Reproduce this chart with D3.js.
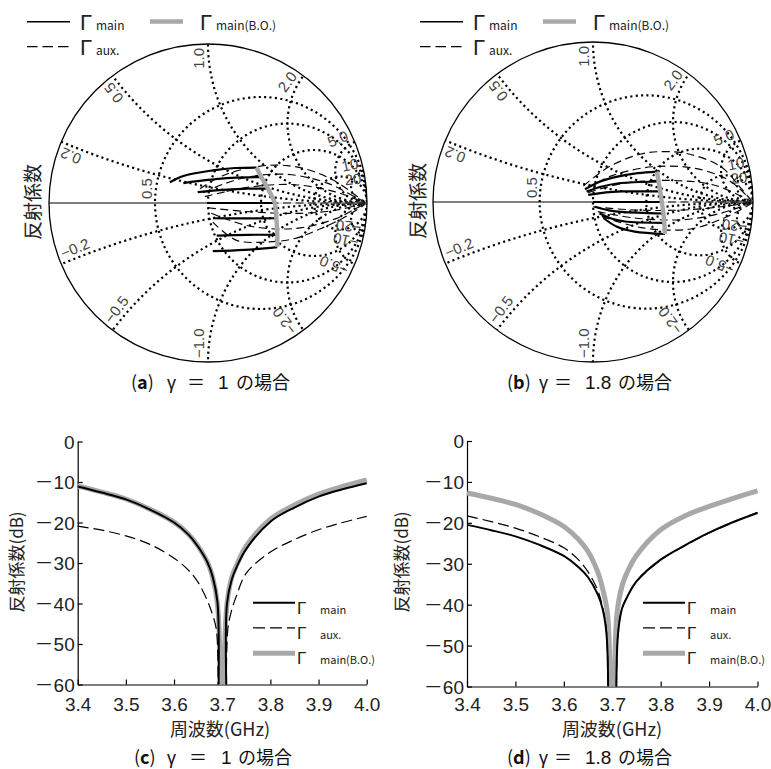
<!DOCTYPE html>
<html><head><meta charset="utf-8">
<script src="https://cdn.jsdelivr.net/npm/d3@7"></script>
<style>
body{margin:0;background:#fff;}
svg{display:block;}
</style></head><body>
<svg id="c" width="771" height="769"></svg>
<script>
// ---------------- data ----------------
const resistanceGrid = [0.5, 1, 2, 5];
const reactanceGrid = [0.2, 0.5, 1, 2, 5, 10];
const reactanceLabelValues = [0.2, 0.5, 1, 2, 5, 10, 20];
const reactanceLabelText = ["0.2", "0.5", "1.0", "2.0", "5.0", "10", "20"];

// (a) gamma = 1 : trajectories in reflection-coefficient plane [re, im]
const a_main = [
  [[-0.24,0.13],[-0.155,0.17],[0.03,0.205],[0.17,0.22],[0.305,0.223]],
  [[-0.155,0.125],[0.0,0.145],[0.15,0.158],[0.335,0.163]],
  [[-0.065,0.068],[0.1,0.082],[0.25,0.09],[0.377,0.09]],
  [[0,0],[0.42,0]],
  [[0.033,-0.096],[0.2,-0.097],[0.43,-0.096]],
  [[0.055,-0.205],[0.25,-0.2],[0.436,-0.2]],
  [[0.03,-0.303],[0.23,-0.295],[0.436,-0.277]]
];
const a_aux = [
  [[-0.05,0.09],[0.1,0.175],[0.33,0.232],[0.5,0.235],[0.66,0.2],[0.82,0.125],[0.94,0.04],[0.985,0.01]],
  [[-0.03,0.065],[0.1,0.12],[0.26,0.165],[0.5,0.18],[0.75,0.125],[0.92,0.04],[0.985,0.006]],
  [[-0.02,0.04],[0.26,0.1],[0.55,0.115],[0.8,0.07],[0.985,0.003]],
  [[0,0],[0.985,0]],
  [[0.0,-0.03],[0.26,-0.055],[0.58,-0.065],[0.81,-0.044],[0.985,-0.003]],
  [[0.02,-0.065],[0.26,-0.145],[0.55,-0.16],[0.8,-0.1],[0.93,-0.035],[0.985,-0.006]],
  [[0.03,-0.12],[0.18,-0.235],[0.37,-0.245],[0.54,-0.225],[0.7,-0.165],[0.84,-0.1],[0.94,-0.04],[0.985,-0.01]]
];
const a_bo = [[0.305,0.223],[0.335,0.163],[0.377,0.09],[0.42,0],[0.43,-0.096],[0.436,-0.2],[0.436,-0.277]];

// (b) gamma = 1.8
const b_main = [
  [[-0.05,0.08],[0.05,0.13],[0.16,0.16],[0.28,0.18],[0.4,0.19]],
  [[-0.04,0.065],[0.05,0.095],[0.16,0.117],[0.41,0.128]],
  [[-0.03,0.044],[0.08,0.06],[0.18,0.066],[0.42,0.066]],
  [[0,0],[0.43,0]],
  [[0.01,-0.03],[0.1,-0.052],[0.18,-0.062],[0.44,-0.072]],
  [[0.04,-0.07],[0.12,-0.105],[0.2,-0.122],[0.445,-0.13]],
  [[0.065,-0.1],[0.15,-0.155],[0.26,-0.185],[0.45,-0.2]]
];
const b_aux = [
  [[-0.06,0.1],[0.1,0.22],[0.3,0.3],[0.45,0.315],[0.6,0.3],[0.8,0.22],[0.93,0.08],[0.99,0.01]],
  [[-0.04,0.085],[0.12,0.165],[0.37,0.22],[0.64,0.21],[0.85,0.135],[0.99,0.008]],
  [[-0.03,0.058],[0.18,0.115],[0.47,0.135],[0.76,0.105],[0.99,0.004]],
  [[0,0],[0.99,0]],
  [[0.0,-0.03],[0.26,-0.05],[0.57,-0.05],[0.8,-0.03],[0.99,-0.003]],
  [[0.03,-0.06],[0.26,-0.1],[0.57,-0.11],[0.8,-0.07],[0.99,-0.006]],
  [[0.055,-0.09],[0.3,-0.16],[0.6,-0.17],[0.82,-0.1],[0.99,-0.01]]
];
const b_bo = [[0.4,0.19],[0.41,0.128],[0.42,0.066],[0.43,0],[0.44,-0.072],[0.445,-0.13],[0.45,-0.2]];

// (c),(d) frequency responses (GHz, dB); null = break at the notch
const xTicks = [3.4, 3.5, 3.6, 3.7, 3.8, 3.9, 4.0];
const xTickLabels = ["3.4", "3.5", "3.6", "3.7", "3.8", "3.9", "4.0"];
const yTicks = [0, -10, -20, -30, -40, -50, -60];
const yTickLabels = ["0", "－10", "－20", "－30", "－40", "－50", "－60"];

const c_main_f = [3.40,3.45,3.50,3.55,3.60,3.63,3.65,3.67,3.68,3.690,3.6925,null,3.7085,3.710,3.72,3.73,3.75,3.80,3.85,3.90,3.95,4.00];
const c_main_v = [-11.1,-12.6,-14.3,-16.8,-20.0,-23.0,-26.0,-30.0,-33.3,-39.5,-60,null,-60,-40,-34.0,-31.0,-26.5,-19.8,-16.3,-13.6,-11.8,-10.3];
const c_aux_f  = [3.40,3.45,3.50,3.55,3.60,3.63,3.65,3.67,3.68,3.688,3.6915,null,3.7085,3.712,3.72,3.73,3.75,3.80,3.85,3.90,3.95,4.00];
const c_aux_v  = [-20.9,-21.9,-23.3,-25.4,-28.8,-31.8,-34.8,-39.5,-42.8,-46.5,-60,null,-60,-46,-41.5,-38,-32.5,-27.3,-24.2,-21.8,-20.0,-18.5];
const c_bo_f   = [3.40,3.45,3.50,3.55,3.60,3.63,3.65,3.67,3.68,3.690,3.6965,null,3.7035,3.710,3.72,3.73,3.75,3.80,3.85,3.90,3.95,4.00];
const c_bo_v   = [-11.0,-12.5,-14.2,-16.7,-19.9,-22.9,-25.9,-30.0,-33.5,-40,-60,null,-60,-40,-33.5,-30.5,-25.8,-19.2,-15.7,-13.0,-11.1,-9.5];

const d_main_f = [3.40,3.45,3.50,3.55,3.60,3.63,3.65,3.67,3.68,3.688,3.6915,null,3.7085,3.712,3.72,3.73,3.75,3.80,3.85,3.90,3.95,4.00];
const d_main_v = [-20.5,-21.8,-23.3,-25.4,-28.1,-30.8,-33.3,-37.5,-41,-47,-60,null,-60,-47,-41.0,-38.3,-34.3,-29,-25.5,-22.4,-19.8,-17.6];
const d_aux_f  = [3.40,3.45,3.50,3.55,3.60,3.63,3.65,3.67,3.68,3.688,3.6915,null,3.7085,3.712,3.72,3.73,3.75,3.80,3.85,3.90,3.95,4.00];
const d_aux_v  = [-18.3,-19.7,-21.3,-23.4,-26.1,-29.0,-32.0,-36.5,-40.5,-46.5,-60,null,-60,-47,-41.0,-38.3,-34.4,-29.1,-25.6,-22.5,-19.9,-17.4];
const d_bo_f   = [3.40,3.45,3.50,3.55,3.60,3.63,3.65,3.67,3.68,3.690,3.6955,null,3.7045,3.710,3.72,3.73,3.75,3.80,3.85,3.90,3.95,4.00];
const d_bo_v   = [-12.7,-14.0,-15.5,-17.8,-20.9,-24.0,-27.0,-32,-36,-42,-60,null,-60,-42,-35.5,-32.3,-28.0,-21.7,-18.3,-16.0,-14.0,-12.2];

// ---------------- drawing ----------------
const FONT = '"Noto Sans CJK JP","Noto Sans",sans-serif';
const NUM = '"Liberation Sans","Noto Sans",sans-serif';
const GRAY = "#a8a8a8";
const svg = d3.select("#c");

function smith(cx, cy, R, main, aux, bo, id) {
  const g = svg.append("g");
  const sx = d3.scaleLinear().domain([-1, 1]).range([cx - R, cx + R]);
  const sy = d3.scaleLinear().domain([-1, 1]).range([cy + R, cy - R]);
  const len = v => sx(v) - sx(0);
  g.append("clipPath").attr("id", id).append("circle")
    .attr("cx", sx(0)).attr("cy", sy(0)).attr("r", len(1));

  const grid = g.append("g").attr("clip-path", `url(#${id})`)
    .attr("fill", "none").attr("stroke", "#000")
    .attr("stroke-width", 2.2).attr("stroke-dasharray", "2.1,3.3");
  resistanceGrid.forEach(r => grid.append("circle")
    .attr("cx", sx(r / (r + 1))).attr("cy", sy(0)).attr("r", len(1 / (r + 1))));
  reactanceGrid.forEach(x => [x, -x].forEach(v => grid.append("circle")
    .attr("cx", sx(1)).attr("cy", sy(1 / v)).attr("r", len(1 / Math.abs(v)))));

  // real axis
  g.append("line").attr("x1", sx(-1)).attr("x2", sx(0)).attr("y1", sy(0)).attr("y2", sy(0))
    .attr("stroke", "#000").attr("stroke-width", 1);
  g.append("line").attr("x1", sx(0)).attr("x2", sx(1)).attr("y1", sy(0)).attr("y2", sy(0))
    .attr("stroke", "#c4c4c4").attr("stroke-width", 1);

  // outer circle
  g.append("circle").attr("cx", sx(0)).attr("cy", sy(0)).attr("r", len(1))
    .attr("fill", "none").attr("stroke", "#000").attr("stroke-width", 1.3);

  // reactance labels
  const lab = g.append("g").attr("font-family", NUM).attr("font-size", 15).attr("fill", "#444");
  reactanceLabelValues.forEach((x, i) => {
    [1, -1].forEach(s => {
      const v = s * x;
      const th = Math.atan2(2 * v, v * v - 1);
      const deg = th * 180 / Math.PI;
      const rho = 0.975;
      const px = sx(rho * Math.cos(th)), py = sy(rho * Math.sin(th));
      const rot = s > 0 ? -deg : -deg - 180;
      lab.append("text")
        .attr("transform", `translate(${px},${py}) rotate(${rot})`)
        .attr("y", -4)
        .attr("text-anchor", s > 0 ? "end" : "start")
        .text((s > 0 ? "" : "\u2212") + reactanceLabelText[i]);
    });
  });
  // resistance label 0.5
  lab.append("text")
    .attr("transform", `translate(${sx(-1/3) - 3},${sy(0) - 4}) rotate(-90)`)
    .attr("text-anchor", "start").text("0.5");

  const line = d3.line().x(d => sx(d[0])).y(d => sy(d[1])).curve(d3.curveCatmullRom.alpha(0.5));
  const dg = g.append("g").attr("fill", "none");
  aux.forEach(p => dg.append("path").attr("d", line(p))
    .attr("stroke", "#000").attr("stroke-width", 1.15).attr("stroke-dasharray", "8,4.5"));
  main.forEach(p => dg.append("path").attr("d", line(p))
    .attr("stroke", "#000").attr("stroke-width", 2.2));
  dg.append("path").attr("d", line(bo))
    .attr("stroke", GRAY).attr("stroke-width", 4.4).attr("stroke-linecap", "butt");
}

function smithLegend(ox) {
  const g = svg.append("g").attr("fill", "#222");
  g.append("line").attr("x1", 27 + ox).attr("x2", 70 + ox).attr("y1", 21.7).attr("y2", 21.7)
    .attr("stroke", "#000").attr("stroke-width", 1.5);
  g.append("line").attr("x1", 27 + ox).attr("x2", 70 + ox).attr("y1", 46.7).attr("y2", 46.7)
    .attr("stroke", "#000").attr("stroke-width", 1.3).attr("stroke-dasharray", "10.5,5");
  g.append("line").attr("x1", 150 + ox).attr("x2", 183 + ox).attr("y1", 21.5).attr("y2", 21.5)
    .attr("stroke", GRAY).attr("stroke-width", 4.5);
  const G = (x, y) => g.append("text").attr("x", x).attr("y", y).attr("font-size", 22)
    .attr("font-family", NUM).text("\u0393");
  const S = (x, y, t) => g.append("text").attr("x", x).attr("y", y).attr("font-size", 12)
    .attr("font-family", FONT).text(t);
  G(80 + ox, 30); S(96 + ox, 30, "main");
  G(80 + ox, 55); S(96 + ox, 55, "aux.");
  G(200 + ox, 30); S(216 + ox, 30, "main(B.O.)");
}

function plotLegend(lx, gx, sxp) {
  const g = svg.append("g").attr("fill", "#222");
  const rows = [602.7, 627.8, 653.3];
  g.append("line").attr("x1", lx).attr("x2", lx + 42).attr("y1", rows[0]).attr("y2", rows[0])
    .attr("stroke", "#000").attr("stroke-width", 2);
  g.append("line").attr("x1", lx).attr("x2", lx + 42).attr("y1", rows[1]).attr("y2", rows[1])
    .attr("stroke", "#000").attr("stroke-width", 1.2).attr("stroke-dasharray", "12,5");
  g.append("line").attr("x1", lx).attr("x2", lx + 42).attr("y1", rows[2]).attr("y2", rows[2])
    .attr("stroke", GRAY).attr("stroke-width", 5);
  const subs = ["main", "aux.", "main(B.O.)"];
  rows.forEach((y, i) => {
    g.append("text").attr("x", gx).attr("y", y + 11).attr("font-size", 17)
      .attr("font-family", NUM).text("\u0393");
    g.append("text").attr("x", sxp).attr("y", y + 11).attr("font-size", 11)
      .attr("font-family", FONT).text(subs[i]);
  });
}

function plot(x0, x1, yTop, yBot, series, titleX, ylabX) {
  const g = svg.append("g");
  const x = d3.scaleLinear().domain([3.4, 4.0]).range([x0, x1]);
  const y = d3.scaleLinear().domain([-60, 0]).range([yBot, yTop]);
  const ax = g.append("g").attr("transform", `translate(0,${yBot})`)
    .call(d3.axisBottom(x).tickValues(xTicks).tickSizeInner(-5).tickSizeOuter(0).tickPadding(0)
      .tickFormat((d, i) => xTickLabels[i]));
  const ay = g.append("g").attr("transform", `translate(${x0},0)`)
    .call(d3.axisLeft(y).tickValues(yTicks).tickSizeInner(-5).tickSizeOuter(0).tickPadding(3)
      .tickFormat((d, i) => yTickLabels[i]));
  [ax, ay].forEach(a => {
    a.attr("font-family", NUM).attr("font-size", 19);
    a.selectAll("path,line").attr("stroke", "#000").attr("stroke-width", 1.2);
    a.selectAll("text").attr("fill", "#222");
  });
  ax.selectAll("text").attr("dy", null).attr("y", 710.5 - yBot);
  ay.selectAll("text").attr("dy", "0.36em").each(function(d, i) {
    const s = yTickLabels[i];
    if (s.charAt(0) === "－") {
      const t = d3.select(this).text(null);
      t.append("tspan").attr("font-family", FONT).text("－");
      t.append("tspan").text(s.slice(1));
    }
  });

  const line = d3.line().defined(d => d[1] != null)
    .x(d => x(d[0])).y(d => y(d[1])).curve(d3.curveCatmullRom.alpha(0.5));
  const zip = (f, v) => f.map((ff, i) => [ff, v[i]]);
  const dg = g.append("g").attr("fill", "none");
  dg.append("path").attr("d", line(zip(series.bo[0], series.bo[1])))
    .attr("stroke", GRAY).attr("stroke-width", 5);
  dg.append("path").attr("d", line(zip(series.aux[0], series.aux[1])))
    .attr("stroke", "#000").attr("stroke-width", 1.2).attr("stroke-dasharray", "11,5");
  dg.append("path").attr("d", line(zip(series.main[0], series.main[1])))
    .attr("stroke", "#000").attr("stroke-width", 2);

  g.append("text").attr("x", titleX).attr("y", 736).attr("text-anchor", "middle")
    .attr("font-family", FONT).attr("font-size", 18).attr("fill", "#222").text("周波数(GHz)");
  g.append("text").attr("transform", `translate(${ylabX},562) rotate(-90)`)
    .attr("text-anchor", "middle").attr("dy", "0.35em")
    .attr("font-family", FONT).attr("font-size", 17).attr("fill", "#222").text("反射係数(dB)");
}

function smithYTitle(x, y) {
  svg.append("text").attr("transform", `translate(${x},${y}) rotate(-90)`)
    .attr("text-anchor", "middle").attr("dy", "0.35em")
    .attr("font-family", FONT).attr("font-size", 19).attr("fill", "#222").text("反射係数");
}

function caption(y, pos, letter, num) {
  const t = svg.append("text").attr("y", y).attr("font-family", FONT).attr("font-size", 18).attr("fill", "#111");
  t.append("tspan").attr("x", pos[0]).text("(");
  t.append("tspan").attr("font-weight", "bold").text(letter);
  t.append("tspan").text(")");
  t.append("tspan").attr("x", pos[1]).attr("font-family", NUM).text("γ");
  t.append("tspan").attr("x", pos[2]).text("＝");
  t.append("tspan").attr("x", pos[3]).attr("font-family", NUM).attr("font-size", 19).text(num);
  t.append("tspan").attr("x", pos[4]).text("の場合");
}

smith(208, 203, 159, a_main, a_aux, a_bo, "clipA");
smith(593, 202, 160, b_main, b_aux, b_bo, "clipB");
smithLegend(0);
smithLegend(393);
smithYTitle(33, 202);
smithYTitle(418, 201);

plot(77.7, 366.7, 441.5, 684.5,
  {main: [c_main_f, c_main_v], aux: [c_aux_f, c_aux_v], bo: [c_bo_f, c_bo_v]}, 220, 17);
plot(467, 757.5, 441, 686.5,
  {main: [d_main_f, d_main_v], aux: [d_aux_f, d_aux_v], bo: [d_bo_f, d_bo_v]}, 612, 402);
plotLegend(253, 297, 320);
plotLegend(643, 687, 710);

caption(389, [131, 167, 187, 218, 236], "a", "1");
caption(389, [507, 539, 554, 585, 618], "b", "1.8");
caption(764, [134, 167, 189, 221, 238], "c", "1");
caption(764, [507, 539, 554, 585, 618], "d", "1.8");
</script>
</body></html>
